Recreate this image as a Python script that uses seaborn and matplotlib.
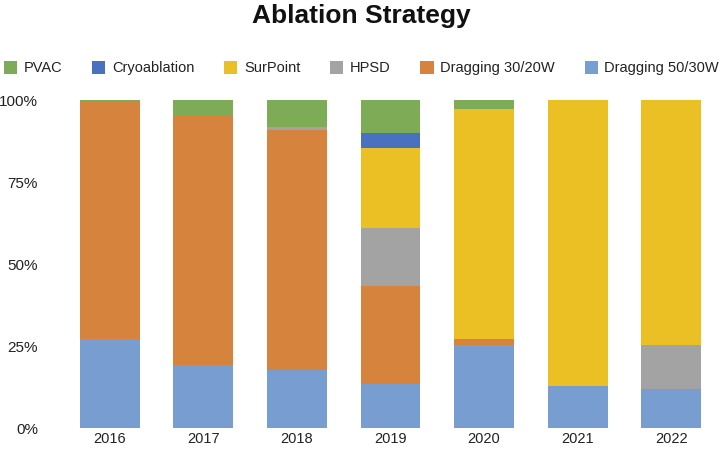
import numpy as np
import pandas as pd
import matplotlib
matplotlib.use("Agg")
import matplotlib.pyplot as plt
import seaborn as sns
from matplotlib.patches import Patch

# data (percent of procedures per year)
years = ["2016", "2017", "2018", "2019", "2020", "2021", "2022"]
drag_50_30 = [27.1, 19.1, 17.6, 13.5, 25.4, 12.7, 12.0]
drag_30_20 = [72.4, 76.1, 73.2, 29.7, 1.7, 0.0, 0.0]
hpsd = [0.0, 0.0, 1.1, 17.8, 0.0, 0.0, 13.2]
surpoint = [0.0, 0.0, 0.0, 24.4, 70.1, 87.3, 74.8]
cryo = [0.0, 0.0, 0.0, 4.4, 0.0, 0.0, 0.0]
pvac = [0.5, 4.8, 8.1, 10.2, 2.8, 0.0, 0.0]

# stacking order bottom -> top
series = [
    ("Dragging 50/30W", drag_50_30, "#789DD1"),
    ("Dragging 30/20W", drag_30_20, "#D6833D"),
    ("HPSD", hpsd, "#A3A3A3"),
    ("SurPoint", surpoint, "#EBC024"),
    ("Cryoablation", cryo, "#4A70C0"),
    ("PVAC", pvac, "#7EAB55"),
]

sns.set_style("white")
plt.rcParams["font.family"] = ["Liberation Sans", "DejaVu Sans"]

fig = plt.figure(figsize=(7.23, 4.49), dpi=100)
ax = fig.add_axes([63 / 723, 21 / 449, 655 / 723, 328 / 449])

df = pd.DataFrame({name: vals for name, vals, _ in series}, index=years)
cum = df.cumsum(axis=1)

# draw tallest cumulative first so lower segments sit on top
for name, _, color in reversed(series):
    sns.barplot(x=years, y=cum[name].values, color=color, width=0.64,
                saturation=1, linewidth=0, edgecolor=color, ax=ax)

ax.set_ylim(0, 100)
ax.set_xlim(-0.5, 6.5)
ax.set_yticks([0, 25, 50, 75, 100])
ax.set_yticklabels(["0%", "25%", "50%", "75%", "100%"])
ax.tick_params(axis="y", length=0, pad=18, labelsize=11, labelcolor="#222222")
ax.tick_params(axis="x", length=0, pad=3, labelsize=10.5, labelcolor="#222222")
sns.despine(ax=ax, left=True, bottom=True)
ax.grid(False)

fig.text(0.5, 1 - 16 / 449, "Ablation Strategy", ha="center", va="center",
         fontsize=19, fontweight="bold", color="#111111")

legend_order = ["PVAC", "Cryoablation", "SurPoint", "HPSD",
                "Dragging 30/20W", "Dragging 50/30W"]
colors = {name: color for name, _, color in series}
handles = [Patch(facecolor=colors[n], edgecolor="none", label=n) for n in legend_order]
fig.legend(handles=handles, loc="center", bbox_to_anchor=(0.5, 1 - 68 / 449),
           ncol=6, frameon=False, fontsize=10.5, handlelength=0.9,
           handleheight=1.0, handletextpad=0.45, columnspacing=2.05,
           labelcolor="#222222")

fig.savefig("out.png", dpi=100)
